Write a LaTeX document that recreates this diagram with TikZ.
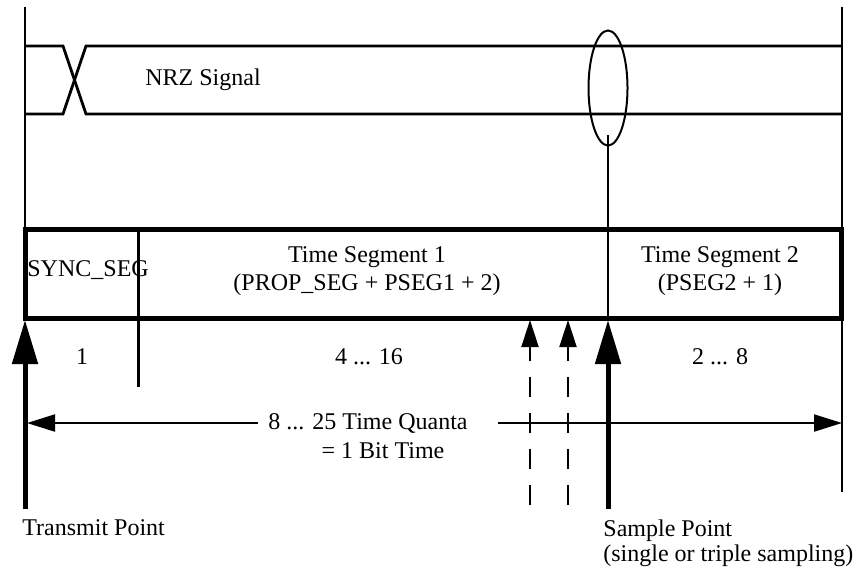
\documentclass[tikz,border=0pt]{standalone}
\usepackage{fontspec}
\setmainfont{Liberation Serif}
\usetikzlibrary{arrows.meta,positioning,shapes.geometric}

\tikzset{
  wire/.style={line width=1pt},
  signal/.style={line width=1.4pt},
  frame/.style={line width=2.5pt},
  divider/.style={line width=1.5pt},
  bigarrow/.style={line width=2.5pt,-{Triangle[length=22pt,width=12.5pt]}},
  dasharrow/.style={line width=1pt,dash pattern=on 10pt off 8pt,-{Triangle[length=13.5pt,width=8.5pt]}},
  span/.style={line width=1pt,-{Triangle[length=14pt,width=8.5pt]}},
  lbl/.style={font=\fontsize{12}{14}\selectfont,inner sep=0pt,align=center}
}

\begin{document}
\begin{tikzpicture}[x=0.5pt,y=-0.5pt]
  \useasboundingbox (0,0) rectangle (855,570);

  % bit boundaries
  \draw[wire] (25,7) -- (25,229);
  \draw[wire] (842,7) -- (842,492);

  % NRZ signal
  \draw[signal] (25,46) -- (63,46) -- (86,114) -- (842,114);
  \draw[signal] (25,114) -- (63,114) -- (86,46) -- (842,46);
  \node[lbl,anchor=west] (nrz) at (145,80) {NRZ Signal};

  % sampling window
  \node[draw,wire,ellipse,inner sep=0pt,minimum width=19.5pt,minimum height=57.5pt] (window) at (608,88) {};
  \coordinate (probe) at (608,135);

  % bit time segments
  \draw[frame] (25,229) rectangle (841,318);
  \draw[divider] (138,229) -- (138,387);
  \draw[wire] (probe) -- (608,318);

  \node[lbl,anchor=west] (sync) at (27,270) {SYNC\_SEG};
  \node[lbl] (tseg1) at (367,271) {Time Segment 1\\(PROP\_SEG + PSEG1 + 2)};
  \node[lbl] (tseg2) at (720,271) {Time Segment 2\\(PSEG2 + 1)};

  \node[lbl] (n1) at (82,357) {1};
  \node[lbl] (n2) at (369,357) {4 ... 16};
  \node[lbl] (n3) at (720,357) {2 ... 8};

  % total length
  \node[lbl] (quanta) at (368,423) {8 ... 25 Time Quanta};
  \node[lbl] (bittime) at (383,451) {= 1 Bit Time};
  \coordinate (spanL) at (258,423);
  \coordinate (spanR) at (498,423);
  \draw[span] (spanL) -- (27,423);
  \draw[span] (spanR) -- (842,423);

  % transmit and sample points
  \coordinate (txfoot) at (25,509);
  \coordinate (spfoot) at (608,509);
  \draw[bigarrow] (txfoot) -- (25,320);
  \draw[bigarrow] (spfoot) -- (608,320);
  \foreach \x in {530,568}
    \draw[dasharrow] (\x,505) -- (\x,320);

  \node[lbl,anchor=west] (tx) at (22,528) {Transmit Point};
  \node[lbl,anchor=north west,align=left,font=\fontsize{12}{12.5}\selectfont] (sp) at (603,519) {Sample Point\\(single or triple sampling)};

\end{tikzpicture}
\end{document}
